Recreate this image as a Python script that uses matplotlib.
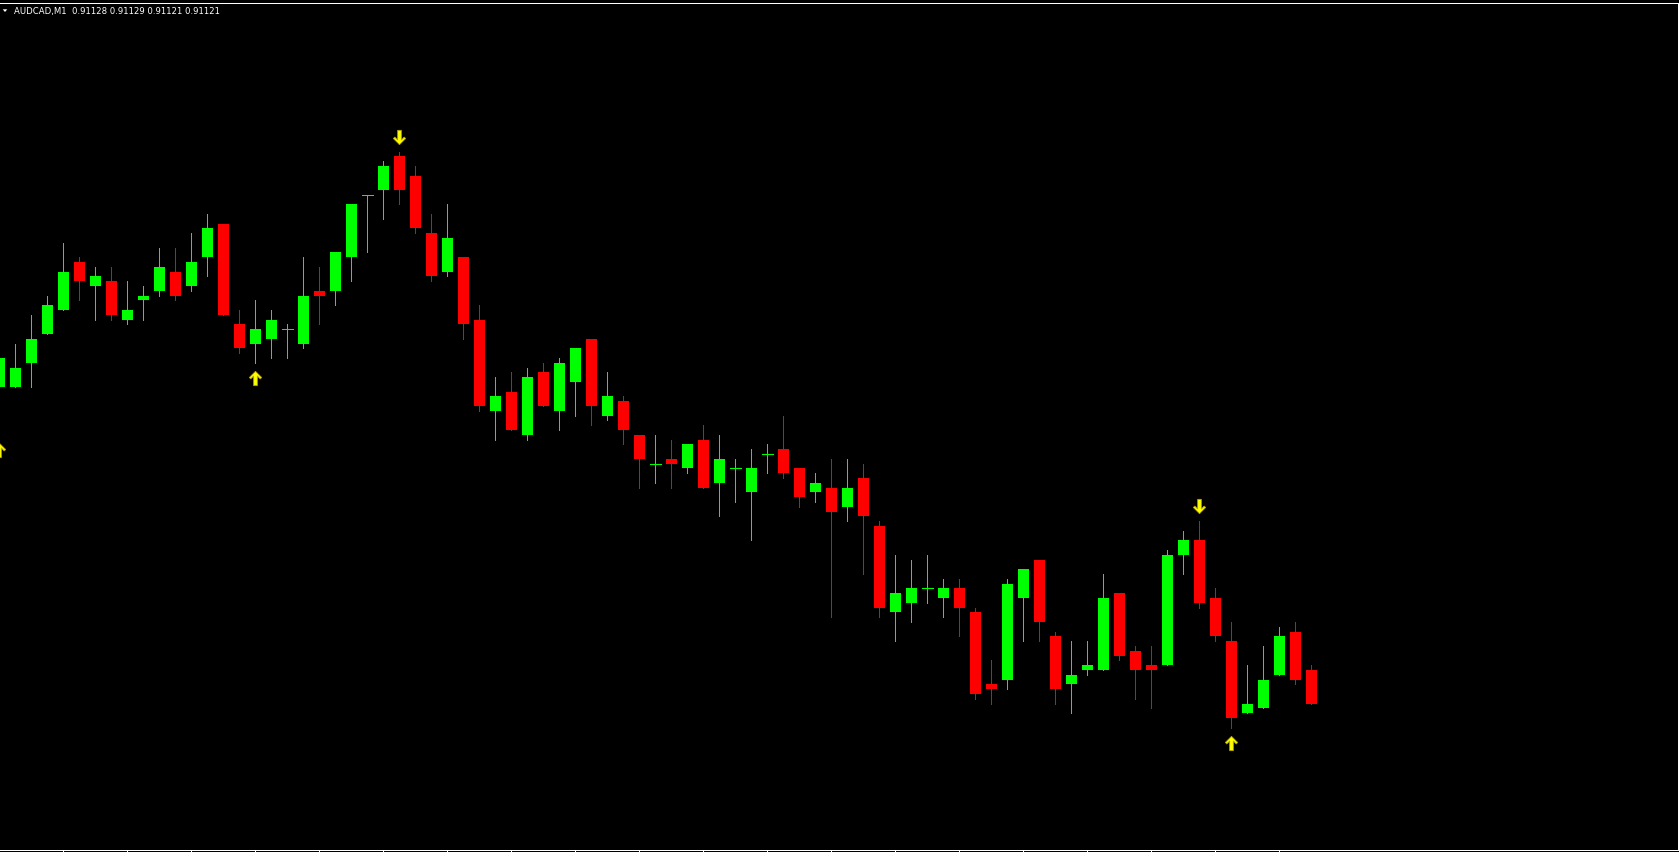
import numpy as np
import matplotlib
matplotlib.use('Agg')
import matplotlib.pyplot as plt
import matplotlib.transforms as mtransforms
from matplotlib.path import Path
from matplotlib.patches import Polygon

# AUDCAD M1 - odczyt z wykresu (83 swiece)
symbol = 'AUDCAD,M1'
opens = [0.91187, 0.91187, 0.91192, 0.91198, 0.91203, 0.91213, 0.91208, 0.91209, 0.91201, 0.91205,
         0.91207, 0.91211, 0.91208, 0.91214, 0.91221, 0.91200, 0.91196, 0.91197, 0.91199, 0.91196,
         0.91207, 0.91207, 0.91214, 0.91227, 0.91228, 0.91235, 0.91231, 0.91219, 0.91211, 0.91214,
         0.91201, 0.91182, 0.91186, 0.91177, 0.91190, 0.91182, 0.91188, 0.91197, 0.91181, 0.91184,
         0.91177, 0.91171, 0.91172, 0.91170, 0.91176, 0.91167, 0.91170, 0.91165, 0.91173, 0.91174,
         0.91170, 0.91165, 0.91166, 0.91162, 0.91168, 0.91158, 0.91140, 0.91142, 0.91145, 0.91143,
         0.91145, 0.91140, 0.91125, 0.91126, 0.91143, 0.91151, 0.91135, 0.91125, 0.91128, 0.91128,
         0.91144, 0.91132, 0.91129, 0.91129, 0.91152, 0.91155, 0.91143, 0.91134, 0.91119, 0.91120,
         0.91127, 0.91136, 0.91128]
highs = [0.91193, 0.91196, 0.91202, 0.91206, 0.91217, 0.91214, 0.91212, 0.91212, 0.91209, 0.91208,
         0.91216, 0.91216, 0.91219, 0.91223, 0.91221, 0.91203, 0.91205, 0.91203, 0.91200, 0.91214,
         0.91212, 0.91215, 0.91225, 0.91227, 0.91234, 0.91236, 0.91233, 0.91223, 0.91225, 0.91214,
         0.91204, 0.91189, 0.91190, 0.91191, 0.91192, 0.91193, 0.91195, 0.91197, 0.91190, 0.91185,
         0.91177, 0.91177, 0.91176, 0.91175, 0.91179, 0.91177, 0.91172, 0.91174, 0.91175, 0.91181,
         0.91170, 0.91169, 0.91172, 0.91172, 0.91171, 0.91159, 0.91152, 0.91151, 0.91152, 0.91147,
         0.91147, 0.91141, 0.91130, 0.91147, 0.91149, 0.91151, 0.91136, 0.91134, 0.91134, 0.91148,
         0.91144, 0.91133, 0.91133, 0.91153, 0.91157, 0.91159, 0.91145, 0.91138, 0.91129, 0.91133,
         0.91137, 0.91138, 0.91129]
lows = [0.91177, 0.91187, 0.91187, 0.91198, 0.91203, 0.91205, 0.91201, 0.91201, 0.91200, 0.91201,
        0.91206, 0.91205, 0.91207, 0.91210, 0.91202, 0.91194, 0.91192, 0.91193, 0.91193, 0.91195,
        0.91200, 0.91204, 0.91209, 0.91215, 0.91222, 0.91225, 0.91219, 0.91209, 0.91210, 0.91197,
        0.91182, 0.91176, 0.91178, 0.91176, 0.91183, 0.91178, 0.91181, 0.91179, 0.91180, 0.91175,
        0.91166, 0.91167, 0.91166, 0.91169, 0.91166, 0.91160, 0.91163, 0.91155, 0.91169, 0.91168,
        0.91162, 0.91163, 0.91139, 0.91159, 0.91148, 0.91139, 0.91134, 0.91138, 0.91142, 0.91139,
        0.91135, 0.91122, 0.91121, 0.91124, 0.91134, 0.91134, 0.91121, 0.91119, 0.91127, 0.91128,
        0.91130, 0.91122, 0.91120, 0.91129, 0.91148, 0.91141, 0.91134, 0.91116, 0.91119, 0.91120,
        0.91127, 0.91125, 0.91121]
closes = [0.91193, 0.91191, 0.91197, 0.91204, 0.91211, 0.91209, 0.91210, 0.91202, 0.91203, 0.91206,
          0.91212, 0.91206, 0.91213, 0.91220, 0.91202, 0.91195, 0.91199, 0.91201, 0.91199, 0.91206,
          0.91206, 0.91215, 0.91225, 0.91227, 0.91233, 0.91228, 0.91220, 0.91210, 0.91218, 0.91200,
          0.91183, 0.91185, 0.91178, 0.91189, 0.91183, 0.91192, 0.91195, 0.91183, 0.91185, 0.91178,
          0.91172, 0.91171, 0.91171, 0.91175, 0.91166, 0.91172, 0.91170, 0.91170, 0.91173, 0.91169,
          0.91164, 0.91167, 0.91161, 0.91166, 0.91160, 0.91141, 0.91144, 0.91145, 0.91145, 0.91145,
          0.91141, 0.91123, 0.91124, 0.91146, 0.91149, 0.91138, 0.91124, 0.91127, 0.91129, 0.91143,
          0.91131, 0.91128, 0.91128, 0.91152, 0.91155, 0.91142, 0.91135, 0.91118, 0.91121, 0.91126,
          0.91135, 0.91126, 0.91121]

# sygnaly wskaznika (indeksy swiec)
up_signals = [0, 16, 77]
down_signals = [25, 75]

# znaczniki czasu co 4 swiece
time_ticks = list(range(4, 81, 4))

W, H = 1679, 852
x = np.arange(len(opens))
o = np.array(opens)
h = np.array(highs)
l = np.array(lows)
c = np.array(closes)
colors = np.where(c >= o, '#00FF00', '#FF0000')

fig = plt.figure(figsize=(W / 100, H / 100), dpi=100, facecolor='black')
ax = fig.add_axes([0, 2.5 / H, 1677.5 / W, 847 / H])
ax.set_facecolor('black')

# knoty
ax.vlines(x, l, h, colors=colors, linewidth=0.72, antialiased=False)

# korpusy
body = c != o
ax.bar(x[body], (c - o)[body], bottom=o[body], width=11 / 16, color=colors[body],
       linewidth=0, antialiased=False)
doji = ~body
ax.hlines(o[doji], x[doji] - 5.5 / 16, x[doji] + 5.5 / 16, colors=colors[doji],
          linewidth=0.72, antialiased=False)

# strzalki
arrow_up = Path([(0, 7), (6, 1), (4.6, -0.4), (1.8, 2.4), (1.8, -7), (-1.8, -7),
                 (-1.8, 2.4), (-4.6, -0.4), (-6, 1), (0, 7)], closed=True)
arrow_dn = Path([(vx, -vy) for vx, vy in arrow_up.vertices], closed=True)
up_tr = mtransforms.offset_copy(ax.transData, fig=fig, y=-15, units='dots')
dn_tr = mtransforms.offset_copy(ax.transData, fig=fig, y=15, units='dots')
ax.plot(x[up_signals], l[up_signals], linestyle='none', marker=arrow_up, markersize=10.3,
        markerfacecolor='#FFFF00', markeredgecolor='#B4A000', markeredgewidth=0.6,
        transform=up_tr)
ax.plot(x[down_signals], h[down_signals], linestyle='none', marker=arrow_dn, markersize=10.3,
        markerfacecolor='#FFFF00', markeredgecolor='#B4A000', markeredgewidth=0.6,
        transform=dn_tr)

ax.set_xlim(0.7 / 16, (1677.5 + 0.7) / 16)
ax.set_ylim(0.91090625, 0.91267083)

for side in ['top', 'right', 'bottom']:
    ax.spines[side].set_color('white')
    ax.spines[side].set_linewidth(0.72)
ax.spines['left'].set_visible(False)
ax.set_xticks(time_ticks)
ax.set_yticks([])
ax.tick_params(axis='x', direction='out', length=2, width=0.72, color='white',
               labelbottom=False)

# naglowek
header = f"{symbol}  {opens[-1]:.5f} {highs[-1]:.5f} {lows[-1]:.5f} {closes[-1]:.5f}"
fig.text(14.5 / W, 1 - 13.7 / H, header, color='white', fontsize=6.1,
         family='DejaVu Sans', va='baseline', ha='left')
tri = Polygon([(2.7 / W, 1 - 9.3 / H), (7.3 / W, 1 - 9.3 / H), (5.0 / W, 1 - 12 / H)],
              closed=True, transform=fig.transFigure, facecolor='white', edgecolor='none')
fig.patches.append(tri)

fig.savefig('out.png', dpi=100, facecolor='black')
